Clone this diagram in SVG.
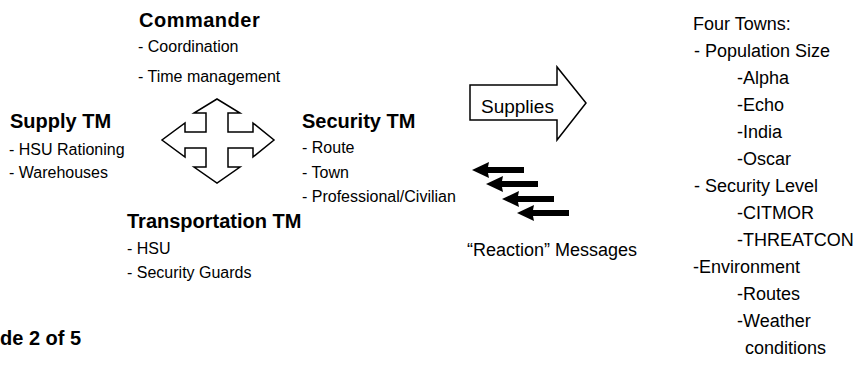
<svg xmlns="http://www.w3.org/2000/svg" width="867" height="367" viewBox="0 0 867 367">
<style>
text{font-family:"Liberation Sans",Arial,sans-serif;fill:#000}
.h{font-weight:bold;font-size:20px}
.b{font-size:16px}
.r{font-size:18px}
.out{fill:#fff;stroke:#000;stroke-width:1.5;stroke-linejoin:miter}
.fill{fill:#000}
</style>
<defs>
<polygon id="rarrow" points="0,0 17,-8 16,-3 52,-3 52,3 16,3 17,8"/>
</defs>
<rect width="867" height="367" fill="#fff"/>
<g id="commander">
<text class="h" x="139" y="27" letter-spacing="0.5">Commander</text>
<text class="b" x="138" y="52">- Coordination</text>
<text class="b" x="138" y="82">- Time management</text>
</g>
<g id="supply-tm">
<text class="h" x="10" y="128">Supply TM</text>
<text class="b" x="9" y="155">- HSU Rationing</text>
<text class="b" x="9" y="178">- Warehouses</text>
</g>
<g id="security-tm">
<text class="h" x="302" y="128">Security TM</text>
<text class="b" x="302" y="153">- Route</text>
<text class="b" x="302" y="178">- Town</text>
<text class="b" x="302" y="202">- Professional/Civilian</text>
</g>
<g id="transportation-tm">
<text class="h" x="127" y="228">Transportation TM</text>
<text class="b" x="127" y="254">- HSU</text>
<text class="b" x="127" y="278">- Security Guards</text>
</g>
<g id="reaction-label">
<text class="r" x="467" y="256">“Reaction” Messages</text>
</g>
<g id="four-towns">
<text class="r" x="693" y="30">Four Towns:</text>
<text class="r" x="694" y="57">- Population Size</text>
<text class="r" x="737" y="84">-Alpha</text>
<text class="r" x="737" y="111">-Echo</text>
<text class="r" x="737" y="138">-India</text>
<text class="r" x="737" y="165">-Oscar</text>
<text class="r" x="694" y="192">- Security Level</text>
<text class="r" x="737" y="219">-CITMOR</text>
<text class="r" x="737" y="246">-THREATCON</text>
<text class="r" x="693" y="273">-Environment</text>
<text class="r" x="737" y="300">-Routes</text>
<text class="r" x="737" y="327">-Weather</text>
<text class="r" x="745" y="354">conditions</text>
</g>
<g id="slide-number">
<text class="h" x="0" y="345">de 2 of 5</text>
</g>
<g id="connectors">
<polygon class="out" points="217,99 240,113 228,113 228,132 253,132 253,123 274,140 253,157 253,148 228,148 228,167 240,167 217,183 194,167 206,167 206,148 185,148 185,157 162,140 185,123 185,132 206,132 206,113 194,113"/>
<g id="supplies-arrow">
<polygon class="out" points="470,85 557,85 557,67 586,103 557,140 557,120 470,120"/>
<text x="481" y="113" style="font-size:19px">Supplies</text>
</g>
<use href="#rarrow" class="fill" x="472" y="170"/>
<use href="#rarrow" class="fill" x="486" y="184"/>
<use href="#rarrow" class="fill" x="502" y="199"/>
<use href="#rarrow" class="fill" x="517" y="213"/>
</g>
</svg>
